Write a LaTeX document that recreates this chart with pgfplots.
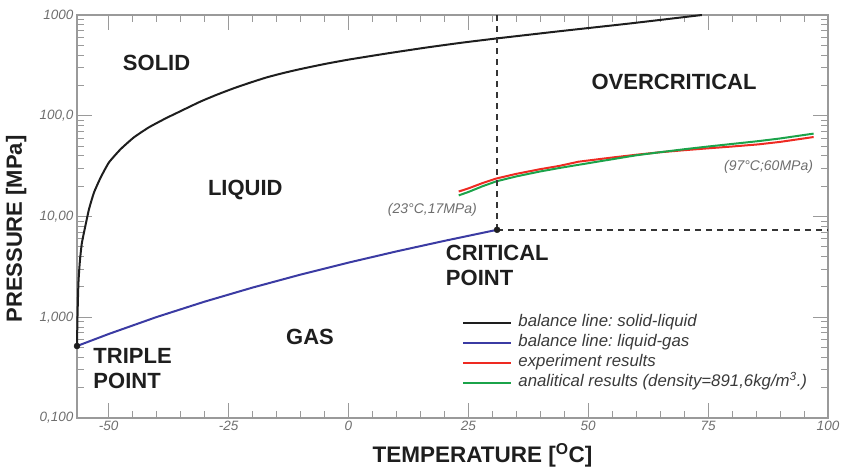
\documentclass[border=0pt]{standalone}
\usepackage{fontspec}
\setmainfont{Liberation Sans}
\usepackage{pgfplots}
\pgfplotsset{compat=1.18}
\frenchspacing
\definecolor{axgray}{HTML}{9A9A9A}
\definecolor{tickgray}{HTML}{6E6E6E}
\definecolor{blueline}{HTML}{3B3BA3}
\definecolor{redline}{HTML}{EE2A22}
\definecolor{greenline}{HTML}{1BA34A}
\definecolor{txt}{HTML}{1E1E1E}
\definecolor{legtxt}{HTML}{3A3A3A}
\begin{document}
\begin{tikzpicture}
\path[use as bounding box] (-77pt,-50pt) rectangle (769pt,418pt);
\begin{axis}[
  scale only axis, width=751pt, height=403pt,
  ymode=log, xmin=-56.6, xmax=100, ymin=0.1, ymax=1000,
  clip=false,
  xtick={-50,-25,0,25,50,75,100},
  xticklabels={-50,-25,0,25,50,75,100},
  minor x tick num=4,
  ytick={0.1,1,10,100,1000},
  yticklabels={{0,100},{1,000},{10,00},{100,0},{1000}},
  axis line style={axgray, line width=1.2pt},
  every tick/.style={axgray, line width=1pt},
  major tick length=15pt, minor tick length=7pt,
  tick label style={font=\fontsize{13.5}{15}\selectfont\itshape, text=tickgray},
  xlabel={TEMPERATURE [\textsuperscript{O}C]},
  ylabel={PRESSURE [MPa]},
  label style={font=\fontsize{22}{24}\selectfont\bfseries, text=txt},
  xlabel style={at={(axis description cs:0.54,0)}, anchor=north, yshift=-22pt, font=\fontsize{22.5}{24}\selectfont\bfseries},
  ylabel style={at={(axis description cs:-0.081,0.469)}, anchor=center},
  legend style={at={(axis description cs:0.509,0.266)}, anchor=north west, draw=none, fill=none,
    font=\fontsize{16.8}{19}\selectfont\itshape, text=legtxt, row sep=0pt,
    nodes={inner sep=2pt, text height=12pt, text depth=4pt},
    /tikz/every odd column/.append style={column sep=4pt}},
  legend cell align=left,
  legend image code/.code={\draw[#1, line width=2pt] (0pt,0pt) -- (48pt,0pt);},
]
\addplot[color=txt, line width=2pt, smooth, tension=0.3] coordinates {
(-56.6,0.52) (-56.5,1.0) (-56.3,2.2) (-56.0,3.6) (-55.6,5.4) (-54.93,7.76) (-54.1,11.8)
(-53.06,17.3) (-51.66,24.4) (-49.94,34.4) (-47.5,46.6) (-44.74,61) (-41.62,76.7)
(-38.15,94) (-35.38,108.9) (-30.9,138) (-27.4,162) (-23.9,187.5) (-20.5,213)
(-17,240.7) (-13.5,266) (-10.1,290) (-5,326) (0,360.5) (8,415) (16,473.5)
(23.5,530) (31,586) (37.5,636) (44,690) (51,751) (58,817) (66,905) (73.7,1000)};
\addlegendentry{balance line: solid-liquid}
\addplot[color=blueline, line width=2pt] coordinates {
(-56.6,0.518) (-50,0.682) (-40,1.005) (-30,1.428) (-20,1.97) (-10,2.649)
(0,3.485) (10,4.502) (20,5.729) (31,7.38)};
\addlegendentry{balance line: liquid-gas}
\addplot[color=redline, line width=2pt] coordinates {
(23,17.7) (25,19) (28,21.5) (30.8,23.8) (35,26.5) (40,29.5) (44,31.8) (48,35)
(55,38.5) (60,41) (64.7,43.3) (70,45.5) (75,47.5) (80,49.5) (85.5,52) (90,55) (97,61.5)};
\addlegendentry{experiment results}
\addplot[color=greenline, line width=2pt] coordinates {
(23,16.2) (25,17.5) (28,20) (30.8,22.3) (35,25) (40,28) (44,30.3) (48,32.6)
(55,37) (60,40.5) (64.7,43.3) (70,46.5) (75,49.5) (80,52.5) (85.5,56) (90,59.5) (97,66.5)};
\addlegendentry{analitical results (density=891,6kg/m\textsuperscript{3}.)}
\addplot[forget plot, color=txt!90, line width=1.5pt, dash pattern=on 6pt off 5pt] coordinates {(31,7.38) (31,1000)};
\addplot[forget plot, color=txt!90, line width=1.5pt, dash pattern=on 6pt off 5pt] coordinates {(31,7.38) (100,7.38)};
\addplot[forget plot, only marks, mark=*, mark size=3pt, color=txt] coordinates {(-56.6,0.518) (31,7.38)};
\begin{scope}[every node/.style={font=\fontsize{22}{25}\selectfont\bfseries, text=txt}]
\node at (axis cs:-40,333) {SOLID};
\node at (axis cs:-21.5,18.2) {LIQUID};
\node at (axis cs:67.9,216) {OVERCRITICAL};
\node at (axis cs:-8,0.633) {GAS};
\node[anchor=west, align=left] at (axis cs:19.6,3.26) {CRITICAL\\POINT};
\node[anchor=west, align=left] at (axis cs:-53.9,0.31) {TRIPLE\\POINT};
\end{scope}
\node[font=\fontsize{14}{16}\selectfont\itshape, text=tickgray] at (axis cs:17.5,11.7) {(23°C,17MPa)};
\node[font=\fontsize{14}{16}\selectfont\itshape, text=tickgray, anchor=east] at (axis cs:97.6,31.4) {(97°C;60MPa)};
\end{axis}
\end{tikzpicture}
\end{document}
